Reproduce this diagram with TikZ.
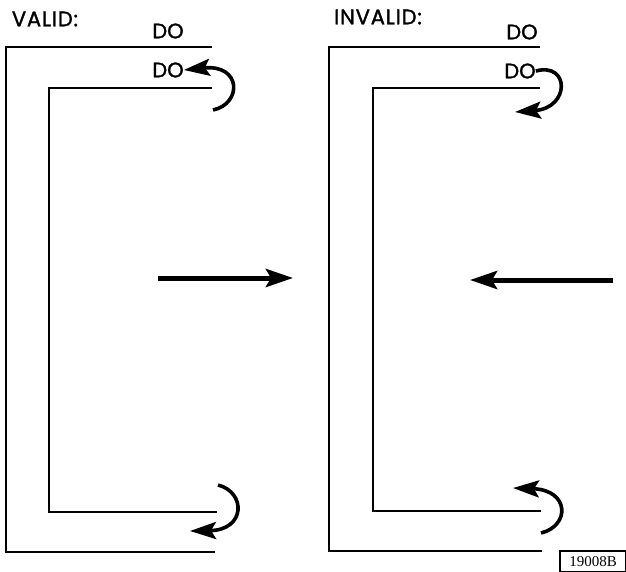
\documentclass[tikz,border=0pt]{standalone}
\usepackage{fontspec}
\newfontfamily\labelfont{Poppins}[FakeBold=1.5]
\newfontfamily\titlefont{Poppins}[FakeBold=1.5,LetterSpace=4]
\newfontfamily\numfont{Liberation Serif}
\usetikzlibrary{arrows.meta}
\begin{document}
\begin{tikzpicture}[x=1pt,y=-1pt,
	bracket/.style={line width=2.9pt},
	loop/.style={line width=3.6pt,-{Stealth[length=26pt,width=17pt,inset=5pt]}},
	bigarrow/.style={line width=5pt,-{Stealth[length=27pt,width=18pt,inset=5pt]}},
	word/.style={inner sep=0pt,font=\labelfont\fontsize{21}{21}\selectfont},
	title/.style={inner sep=0pt,font=\titlefont\fontsize{21}{21}\selectfont}]
	\useasboundingbox (0,0) rectangle (626,572);
	% valid
	\coordinate (VA) at (212,47);
	\coordinate (VB) at (6,47);
	\coordinate (VC) at (6,552);
	\coordinate (VD) at (215,552);
	\coordinate (Va) at (212,88);
	\coordinate (Vb) at (49,88);
	\coordinate (Vc) at (49,512);
	\coordinate (Vd) at (217,512);
	\node[title] (valid) at (45,19) {VALID:};
	\node[word] (Vdo) at (168,31) {DO};
	\node[word] (Vdoin) at (168,70) {DO};
	\draw[bracket] (VA) -- (VB) -- (VC) -- (VD);
	\draw[bracket] (Va) -- (Vb) -- (Vc) -- (Vd);
	\draw[loop] (213,110) .. controls (242,104) and (242,64) .. (Vdoin.east);
	\draw[loop] (218,485) .. controls (246,492) and (246,530) .. (190,531);
	\coordinate (Vs) at (158,278);
	\coordinate (Vt) at (293,278);
	\draw[bigarrow] (Vs) -- (Vt);
	% invalid
	\coordinate (IA) at (540,47);
	\coordinate (IB) at (329,47);
	\coordinate (IC) at (329,551);
	\coordinate (ID) at (542,551);
	\coordinate (Ia) at (540,88);
	\coordinate (Ib) at (373,88);
	\coordinate (Ic) at (373,511);
	\coordinate (Id) at (541,511);
	\node[title] (invalid) at (378,17) {INVALID:};
	\node[word] (Ido) at (522,32) {DO};
	\node[word] (Idoin) at (520,71) {DO};
	\draw[bracket] (IA) -- (IB) -- (IC) -- (ID);
	\draw[bracket] (Ia) -- (Ib) -- (Ic) -- (Id);
	\draw[loop] (Idoin.east) .. controls (570,62) and (570,108) .. (515,112);
	\draw[loop] (541,533) .. controls (570,526) and (570,490) .. (513,488);
	\coordinate (Is) at (613,280);
	\coordinate (It) at (470,280);
	\draw[bigarrow] (Is) -- (It);
	% figure number
	\node[draw,line width=1.6pt,minimum width=66pt,minimum height=21pt,inner sep=0pt,
		font=\numfont\fontsize{15}{15}\selectfont] (fig) at (593,561.5) {19008B};
\end{tikzpicture}
\end{document}
